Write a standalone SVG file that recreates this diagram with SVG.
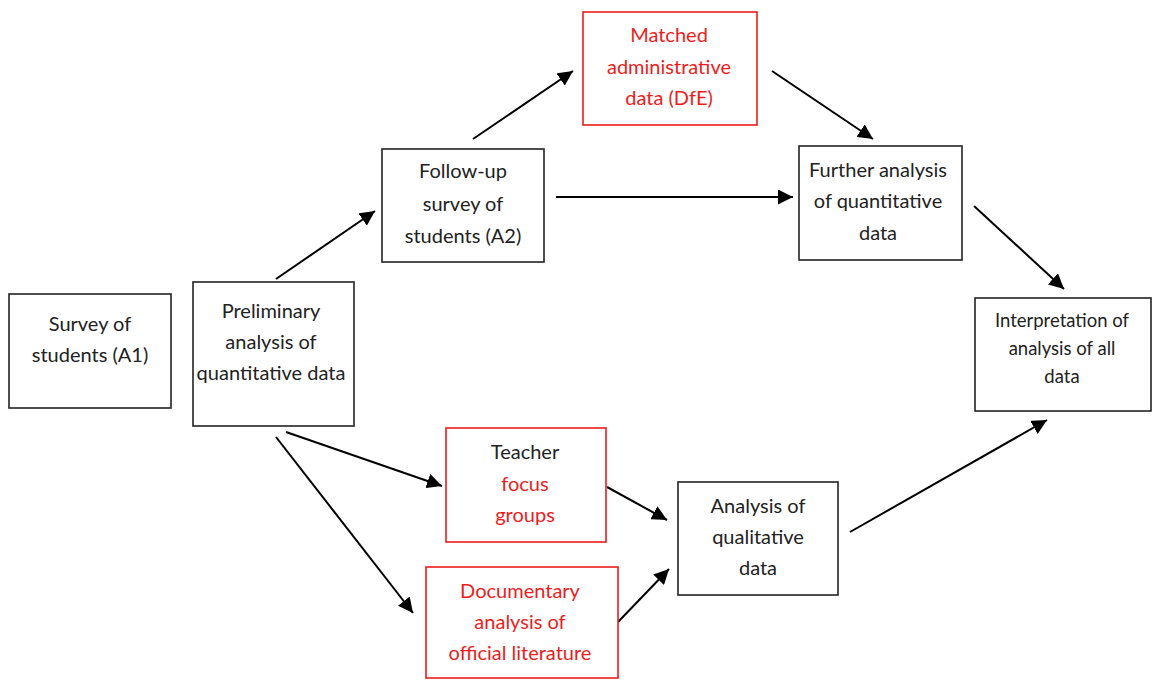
<svg xmlns="http://www.w3.org/2000/svg" width="1153" height="680" viewBox="0 0 1153 680">
<style>
.box{fill:#fff;stroke:#222;stroke-width:1.6}
.rbox{fill:#fff;stroke:#ee1c1c;stroke-width:1.6}
text{font-family:Lato,"Liberation Sans",sans-serif;font-size:20px;fill:#222;text-anchor:middle}
.red{fill:#ee1c1c}
.sm{font-size:18.5px}
.conn line{stroke:#000;stroke-width:2;marker-end:url(#ah)}
</style>
<defs>
<marker id="ah" viewBox="0 0 10 10" refX="10" refY="5" markerWidth="7.5" markerHeight="7.5" markerUnits="strokeWidth" orient="auto">
<path d="M0,0 L10,5 L0,10 z" fill="#000"/>
</marker>
</defs>
<rect width="1153" height="680" fill="#fff"/>
<g class="conn">
<line x1="276" y1="279" x2="375" y2="211"/>
<line x1="473" y1="139" x2="573" y2="71"/>
<line x1="556" y1="197" x2="793" y2="197"/>
<line x1="772" y1="71" x2="873" y2="139"/>
<line x1="974" y1="206" x2="1064" y2="289"/>
<line x1="286" y1="432" x2="442" y2="486"/>
<line x1="276" y1="437" x2="413" y2="613"/>
<line x1="607" y1="487" x2="667" y2="520"/>
<line x1="618" y1="622" x2="669" y2="569"/>
<line x1="850" y1="532" x2="1047" y2="420"/>
</g>
<g id="survey">
<rect class="box" x="9" y="294" width="162" height="114"/>
<text x="90" y="331">Survey of</text>
<text x="90" y="362">students (A1)</text>
</g>
<g id="prelim">
<rect class="box" x="193" y="282" width="161" height="144"/>
<text x="271" y="318">Preliminary</text>
<text x="271" y="349">analysis of</text>
<text x="271" y="380">quantitative data</text>
</g>
<g id="followup">
<rect class="box" x="382" y="149" width="162" height="113"/>
<text x="463" y="178">Follow-up</text>
<text x="463" y="211">survey of</text>
<text x="463" y="243">students (A2)</text>
</g>
<g id="matched">
<rect class="rbox" x="583" y="12" width="174" height="113"/>
<text class="red" x="669" y="42">Matched</text>
<text class="red" x="669" y="74">administrative</text>
<text class="red" x="669" y="105">data (DfE)</text>
</g>
<g id="further">
<rect class="box" x="799" y="146" width="163" height="114"/>
<text x="878" y="177">Further analysis</text>
<text x="878" y="208">of quantitative</text>
<text x="878" y="240">data</text>
</g>
<g id="interp">
<rect class="box" x="975" y="298" width="176" height="113"/>
<text class="sm" x="1062" y="327">Interpretation of</text>
<text class="sm" x="1062" y="355">analysis of all</text>
<text class="sm" x="1062" y="383">data</text>
</g>
<g id="teacher">
<rect class="rbox" x="446" y="428" width="160" height="114"/>
<text x="525" y="459">Teacher</text>
<text class="red" x="525" y="491">focus</text>
<text class="red" x="525" y="522">groups</text>
</g>
<g id="documentary">
<rect class="rbox" x="426" y="567" width="192" height="111"/>
<text class="red" x="520" y="598">Documentary</text>
<text class="red" x="520" y="629">analysis of</text>
<text class="red" x="520" y="660">official literature</text>
</g>
<g id="qualitative">
<rect class="box" x="678" y="482" width="160" height="113"/>
<text x="758" y="513">Analysis of</text>
<text x="758" y="544">qualitative</text>
<text x="758" y="575">data</text>
</g>
</svg>
